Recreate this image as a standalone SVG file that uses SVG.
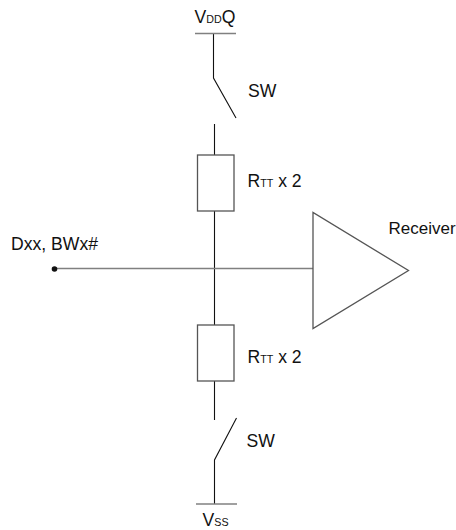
<svg xmlns="http://www.w3.org/2000/svg" width="456" height="530" viewBox="0 0 456 530">
<style>
.w{fill:#fff}
.l{fill:none;stroke:#111;stroke-width:1.1}
.g{fill:none;stroke:#808080;stroke-width:1.4}
.b{fill:#fff;stroke:#555;stroke-width:1.3}
text{font-family:"Liberation Sans",Arial,sans-serif;font-size:17.6px;fill:#111}
.s{font-size:10.7px}
</style>
<rect class="w" width="456" height="530"/>
<g id="connectors">
<path class="l" d="M213.500 34V78L236 118"/>
<path class="l" d="M214.500 124V155"/>
<path class="l" d="M214.500 211V325"/>
<path class="g" d="M55 268.500H313"/>
<path class="l" d="M214.500 381V420"/>
<path class="l" d="M236.500 418L214.500 460V504"/>
<circle cx="54.500" cy="269" r="2.800" fill="#111"/>
</g>
<g id="vddq">
<path class="g" d="M195 33.500H236"/>
<text x="194.500" y="22.700">V<tspan class="s">DD</tspan>Q</text>
</g>
<g id="sw-top"><text x="248" y="96.500">SW</text></g>
<g id="rtt-top">
<rect class="b" x="197.500" y="155" width="36.500" height="56"/>
<text x="247.500" y="186.700">R<tspan class="s">TT</tspan> x 2</text>
</g>
<g id="input"><text x="11" y="249.500">Dxx, BWx#</text></g>
<g id="receiver">
<path class="b" d="M313 212.500V328.500L408.500 270.500Z"/>
<text x="388.500" y="234" style="font-size:17px">Receiver</text>
</g>
<g id="rtt-bottom">
<rect class="b" x="197.500" y="325" width="36.500" height="56"/>
<text x="247.500" y="362.700">R<tspan class="s">TT</tspan> x 2</text>
</g>
<g id="sw-bottom"><text x="246.500" y="446.700">SW</text></g>
<g id="vss">
<path class="g" d="M196 504H237"/>
<text x="202.500" y="526.200">V<tspan class="s">SS</tspan></text>
</g>
</svg>
